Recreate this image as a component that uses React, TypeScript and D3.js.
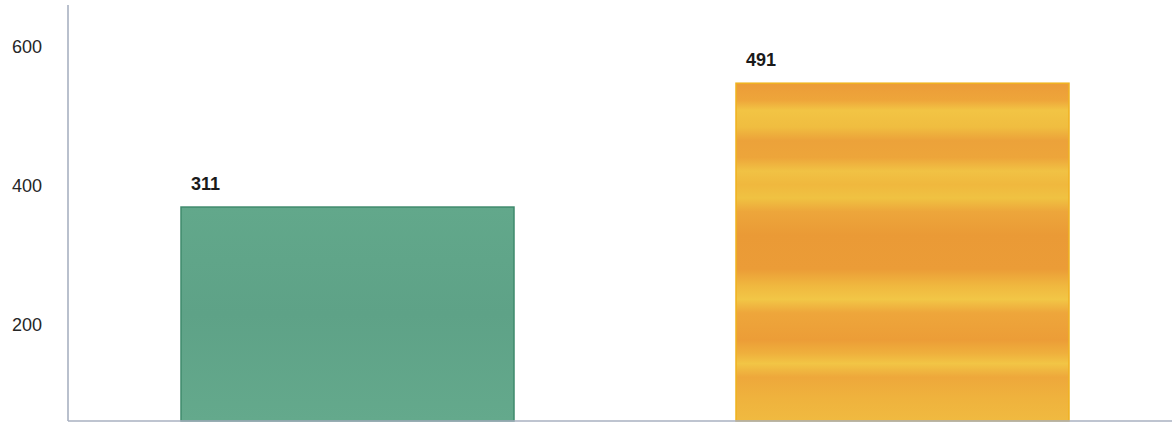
import React from "react";
import * as d3 from "d3";

const categories = ["A", "B"];
const values = [311, 491];
const tickValues = [200, 400, 600];
const barStrokes = ["#3f8a6c", "#f0b21e"];

const W = 1172;
const H = 423;

export default function App() {
  const baseY = 421;
  const axisX = 68;
  const x = d3.scaleBand<string>().domain(categories).range([70, 1180]).paddingInner(0.4).paddingOuter(0.2);
  const y = d3.scaleLinear().domain([0, 600]).range([baseY, baseY - 0.688 * 600]);
  // tick labels in the source sit on their own (offset) scale
  const yTicks = d3.scaleLinear().domain([200, 600]).range([325, 47]);

  const stripeStops: [number, string][] = [
    [0, "#ec9c38"], [0.05, "#eea53a"], [0.08, "#f2c444"], [0.13, "#f0bd40"], [0.17, "#eca23a"],
    [0.22, "#eda53a"], [0.26, "#f1c244"], [0.3, "#f0b83e"], [0.34, "#f0c242"], [0.38, "#eda63b"],
    [0.45, "#ea9a36"], [0.55, "#eb9c37"], [0.6, "#f0b83f"], [0.64, "#f2c646"], [0.68, "#eea63b"],
    [0.76, "#ec9d37"], [0.8, "#efb03d"], [0.83, "#f2c545"], [0.87, "#eea83b"], [0.93, "#efb23d"], [1, "#f0ba40"],
  ];

  return (
    <svg width={W} height={H} style={{ position: "absolute", left: 0, top: 0, background: "#fff" }}>
      <defs>
        <linearGradient id="orangeStripes" x1="0" y1="0" x2="0" y2="1">
          {stripeStops.map(([o, c], i) => (
            <stop key={i} offset={o} stopColor={c} />
          ))}
        </linearGradient>
        <linearGradient id="greenShade" x1="0" y1="0" x2="0" y2="1">
          <stop offset="0" stopColor="#62a88b" />
          <stop offset="0.5" stopColor="#5ea287" />
          <stop offset="1" stopColor="#64a98c" />
        </linearGradient>
      </defs>
      {values.map((v, i) => {
        const bx = x(categories[i])!;
        const bw = x.bandwidth();
        return (
          <g key={i}>
            <rect
              x={bx}
              y={y(v)}
              width={bw}
              height={y(0) - y(v)}
              fill={i === 0 ? "url(#greenShade)" : "url(#orangeStripes)"}
              stroke={barStrokes[i]}
              strokeWidth={1.5}
            />
            <text
              x={bx + 10}
              y={y(v) - 23}
              dy="0.35em"
              fontFamily="Liberation Sans, Arial, sans-serif"
              fontWeight="bold"
              fontSize={18}
              fill="#1a1a1a"
            >
              {v}
            </text>
          </g>
        );
      })}
      {tickValues.map((t) => (
        <text
          key={t}
          x={42}
          y={yTicks(t)}
          dy="0.35em"
          textAnchor="end"
          fontFamily="Liberation Sans, Arial, sans-serif"
          fontSize={18}
          fill="#262626"
        >
          {t}
        </text>
      ))}
      <line x1={axisX} x2={axisX} y1={5} y2={baseY} stroke="#8a96ac" strokeWidth={1.2} />
      <line x1={axisX} x2={W} y1={baseY} y2={baseY} stroke="#a8b0c0" strokeWidth={1.5} />
    </svg>
  );
}
